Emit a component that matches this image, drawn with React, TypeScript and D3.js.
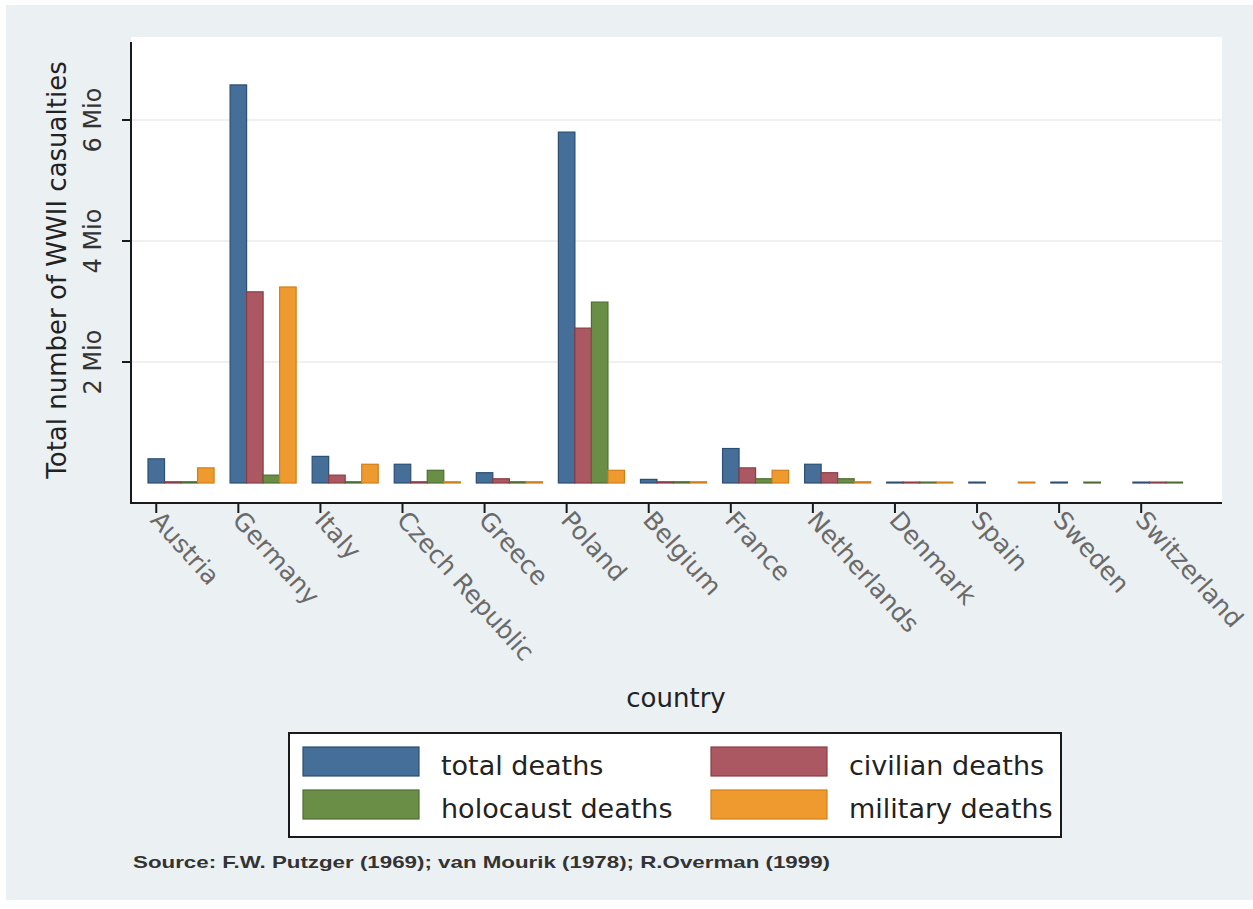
import React from 'react';
import * as d3 from 'd3';

// values in millions (null = no bar)
const countries = ['Austria', 'Germany', 'Italy', 'Czech Republic', 'Greece', 'Poland', 'Belgium', 'France', 'Netherlands', 'Denmark', 'Spain', 'Sweden', 'Switzerland'];
const seriesNames = ['total deaths', 'civilian deaths', 'holocaust deaths', 'military deaths'];
const totalDeaths = [0.40, 6.58, 0.44, 0.31, 0.17, 5.80, 0.06, 0.57, 0.31, 0.015, 0.015, 0.015, 0.015];
const civilianDeaths = [0.02, 3.16, 0.13, 0.02, 0.07, 2.56, 0.02, 0.25, 0.17, 0.015, null, null, 0.015];
const holocaustDeaths = [0.02, 0.13, 0.02, 0.21, 0.02, 2.99, 0.02, 0.07, 0.07, 0.015, null, 0.015, 0.015];
const militaryDeaths = [0.25, 3.24, 0.31, 0.02, 0.02, 0.21, 0.02, 0.21, 0.02, 0.015, 0.015, null, null];
const yTicks = [2, 4, 6];

const fills = ['#456f98', '#ac5862', '#6b8e47', '#ef9a2f'];
const strokes = ['#2c4e72', '#8a3d46', '#4e6d31', '#d27f1a'];

const W = 1253;
const H = 909;
const plot = { left: 131, right: 1222, top: 37, bottom: 503 };
const font = '"DejaVu Sans", Verdana, sans-serif';

const App: React.FC = () => {
    const allSeries = [totalDeaths, civilianDeaths, holocaustDeaths, militaryDeaths];

    const x = d3.scaleBand<string>()
        .domain(countries)
        .range([148, 1199])
        .paddingInner(0.195)
        .paddingOuter(0);

    const sub = d3.scaleBand<string>()
        .domain(seriesNames)
        .range([0, x.bandwidth()]);

    const y = d3.scaleLinear().domain([0, 6]).range([483, 120]);

    const tickX = (c: string) => (x(c) || 0) + (sub(seriesNames[0]) || 0) + sub.bandwidth() / 2;

    return (
        <svg width={W} height={H} style={{ position: 'absolute', left: 0, top: 0, background: '#fff' }}>
            {/* graph region */}
            <rect x={6} y={5} width={W - 6} height={895} fill="#ebf0f3" />
            {/* plot region */}
            <rect x={plot.left} y={plot.top} width={plot.right - plot.left} height={plot.bottom - plot.top} fill="#fff" />

            {/* gridlines */}
            {yTicks.map(t => (
                <line key={`g${t}`} x1={plot.left} x2={plot.right} y1={y(t)} y2={y(t)} stroke="#ebebeb" strokeWidth={1.5} />
            ))}

            {/* bars */}
            {countries.map((c, i) => (
                <g key={c} transform={`translate(${x(c)},0)`}>
                    {allSeries.map((s, j) => {
                        const v = s[i];
                        if (v === null) return null;
                        return (
                            <rect
                                key={seriesNames[j]}
                                x={sub(seriesNames[j])}
                                y={y(v)}
                                width={sub.bandwidth()}
                                height={y(0) - y(v)}
                                fill={fills[j]}
                                stroke={strokes[j]}
                                strokeWidth={1.2}
                            />
                        );
                    })}
                </g>
            ))}

            {/* axes */}
            <line x1={plot.left} x2={plot.left} y1={42} y2={plot.bottom + 1} stroke="#1a1a1a" strokeWidth={2} />
            <line x1={plot.left} x2={plot.right} y1={plot.bottom} y2={plot.bottom} stroke="#1a1a1a" strokeWidth={2} />

            {yTicks.map(t => (
                <g key={`y${t}`}>
                    <line x1={122} x2={plot.left} y1={y(t)} y2={y(t)} stroke="#1a1a1a" strokeWidth={2} />
                    <text
                        transform={`translate(101,${y(t)}) rotate(-90)`}
                        textAnchor="middle"
                        fontFamily={font}
                        fontSize={24}
                        fill="#333"
                    >
                        {`${t} Mio`}
                    </text>
                </g>
            ))}

            {countries.map(c => (
                <g key={`x${c}`}>
                    <line x1={tickX(c)} x2={tickX(c)} y1={plot.bottom} y2={plot.bottom + 10} stroke="#1a1a1a" strokeWidth={2} />
                    <text
                        transform={`translate(${tickX(c) - 7},${plot.bottom + 18}) rotate(48)`}
                        textAnchor="start"
                        fontFamily={font}
                        fontSize={25}
                        fill="#6a6a6a"
                    >
                        {c}
                    </text>
                </g>
            ))}

            {/* axis titles */}
            <text
                transform={`translate(66,${(plot.top + plot.bottom) / 2}) rotate(-90)`}
                textAnchor="middle"
                fontFamily={font}
                fontSize={26}
                fill="#222"
            >
                Total number of WWII casualties
            </text>
            <text x={676} y={707} textAnchor="middle" fontFamily={font} fontSize={26} fill="#222">country</text>

            {/* legend */}
            <rect x={289} y={733} width={772} height={104} fill="#fff" stroke="#1a1a1a" strokeWidth={2} />
            {seriesNames.map((n, j) => {
                const col = j % 2;
                const row = Math.floor(j / 2);
                const sx = col === 0 ? 303 : 711;
                const sy = row === 0 ? 747 : 790;
                return (
                    <g key={`l${n}`}>
                        <rect x={sx} y={sy} width={116} height={29} fill={fills[j]} stroke={strokes[j]} strokeWidth={1.2} />
                        <text x={sx + 138} y={sy + 28} fontFamily={font} fontSize={27} fill="#222">{n}</text>
                    </g>
                );
            })}

            {/* note */}
            <text
                x={133}
                y={868}
                fontFamily='"Liberation Sans", Arial, sans-serif'
                fontWeight="bold"
                fontSize={17}
                fill="#333"
                textLength={697}
                lengthAdjust="spacingAndGlyphs"
            >
                Source: F.W. Putzger (1969); van Mourik (1978); R.Overman (1999)
            </text>
        </svg>
    );
};

export default App;
